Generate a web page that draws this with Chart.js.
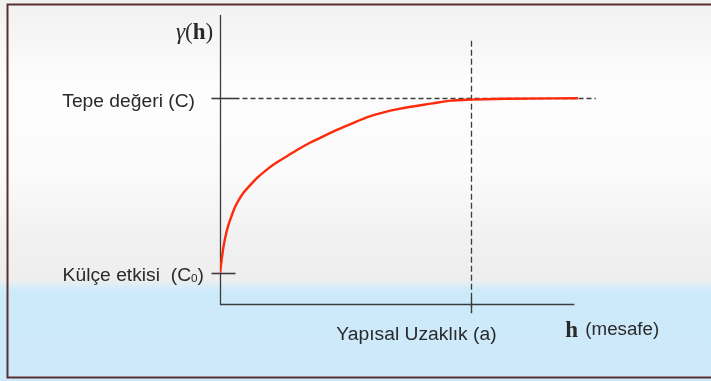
<!DOCTYPE html>
<html>
<head>
<meta charset="utf-8">
<script src="https://cdn.jsdelivr.net/npm/chart.js@4/dist/chart.umd.min.js"></script>
<style>
html,body{margin:0;padding:0;background:#fff;overflow:hidden;}
canvas{display:block;}
</style>
</head>
<body>
<canvas id="c" width="711" height="381"></canvas>
<script>
// ---- data ----
const distances   = [0, 0.05, 0.1, 0.17, 0.23, 0.33, 0.42, 0.51, 0.65, 0.84, 1.03, 1.3, 1.58, 1.86, 2.14, 2.5, 2.8, 3.25, 3.6, 4.2, 5.0, 5.95, 6.45, 7.0, 8.0, 10.0];
const semivariance = [1.5, 2.2, 2.8, 3.4, 3.8, 4.3, 4.7, 5.0, 5.38, 5.75, 6.1, 6.5, 6.85, 7.15, 7.45, 7.8, 8.05, 8.42, 8.68, 9.1, 9.45, 9.72, 9.85, 9.9, 9.94, 9.97];
const nugget = 1.5;        // C0
const sill = 10;           // C
const rangeA = 7;          // a
const xAxisEnd = 9.9;
const sillLineEnd = 10.5;
const yAxisTop = 14;
const rangeLineTop = 12.75;
const rangeLineBottom = -0.45;
const rangeTickBottom = -0.4;
const labelSill = 'Tepe değeri (C)';
const labelNugget = 'Külçe etkisi  (C';
const labelNuggetSub = '0';
const labelRange = 'Yapısal Uzaklık (a)';
const labelYTitle = ['γ', '(', 'h', ')'];
const labelXTitle = 'h';
const labelXUnit = '(mesafe)';

const points = distances.map((d, i) => ({x: d, y: semivariance[i]}));

const SANS = '"Liberation Sans", Arial, sans-serif';
const SERIF = '"Liberation Serif", "Times New Roman", serif';

function stretchText(ctx, text, x, y, align, sx) {
  ctx.save();
  ctx.translate(x, y);
  ctx.scale(sx, 1);
  ctx.textAlign = align;
  ctx.fillText(text, 0, 0);
  ctx.restore();
  return ctx.measureText(text).width * sx;
}

const backgroundPlugin = {
  id: 'bg',
  beforeDraw(chart) {
    const ctx = chart.ctx, W = chart.width, H = chart.height;
    ctx.save();
    const g = ctx.createLinearGradient(0, 0, 0, H);
    g.addColorStop(0.0, '#f1f1f1');
    g.addColorStop(0.10, '#f6f6f6');
    g.addColorStop(0.22, '#fdfdfd');
    g.addColorStop(0.45, '#fbfbfb');
    g.addColorStop(0.62, '#f1f1f1');
    g.addColorStop(0.735, '#eeeeee');
    g.addColorStop(0.75, '#dcedf6');
    g.addColorStop(0.765, '#cdeafb');
    g.addColorStop(1.0, '#cde9fa');
    ctx.fillStyle = g;
    ctx.fillRect(0, 0, W, H);
    // frame (left, top, bottom)
    ctx.strokeStyle = '#5a2f30';
    ctx.lineWidth = 2;
    ctx.beginPath();
    ctx.moveTo(W + 2, 4.5);
    ctx.lineTo(7.5, 4.5);
    ctx.lineTo(7.5, 377.5);
    ctx.lineTo(W + 2, 377.5);
    ctx.stroke();
    ctx.restore();
  }
};

const axesPlugin = {
  id: 'axes',
  beforeDatasetsDraw(chart) {
    const ctx = chart.ctx;
    const xs = chart.scales.x, ys = chart.scales.y;
    const X = v => xs.getPixelForValue(v), Y = v => ys.getPixelForValue(v);
    const x0 = Math.round(X(0)) + 0.5, y0 = Math.round(Y(0)) + 0.5;
    ctx.save();
    ctx.strokeStyle = '#3c3c3c';
    ctx.lineWidth = 1.3;
    // axes
    ctx.beginPath();
    ctx.moveTo(x0, Y(yAxisTop));
    ctx.lineTo(x0, y0);
    ctx.lineTo(X(xAxisEnd), y0);
    ctx.stroke();
    // sill tick + dashed line
    const yc = Math.round(Y(sill)) + 0.5;
    ctx.lineWidth = 1.6;
    ctx.beginPath();
    ctx.moveTo(x0 - 9, yc); ctx.lineTo(x0 + 19, yc);
    ctx.stroke();
    ctx.lineWidth = 1.3;
    ctx.setLineDash([5, 3]);
    ctx.beginPath();
    ctx.moveTo(x0 + 22, yc); ctx.lineTo(X(sillLineEnd), yc);
    ctx.stroke();
    ctx.setLineDash([]);
    // nugget tick
    const yn = Math.round(Y(nugget)) + 0.5;
    ctx.lineWidth = 1.6;
    ctx.beginPath();
    ctx.moveTo(x0 - 9, yn); ctx.lineTo(x0 + 15, yn);
    ctx.stroke();
    // range line (dashed) + solid tick at x axis
    const xa = Math.round(X(rangeA)) + 0.5;
    ctx.lineWidth = 1.3;
    ctx.setLineDash([6, 3]);
    ctx.beginPath();
    ctx.moveTo(xa, Y(rangeLineTop)); ctx.lineTo(xa, Y(rangeLineBottom));
    ctx.stroke();
    ctx.setLineDash([]);
    ctx.beginPath();
    ctx.moveTo(xa, y0 - 7); ctx.lineTo(xa, Y(rangeTickBottom));
    ctx.stroke();
    ctx.restore();
  },
  afterDraw(chart) {
    const ctx = chart.ctx;
    const xs = chart.scales.x, ys = chart.scales.y;
    const X = v => xs.getPixelForValue(v), Y = v => ys.getPixelForValue(v);
    const x0 = X(0);
    ctx.save();
    ctx.fillStyle = '#2a2a2a';
    ctx.textBaseline = 'alphabetic';
    // sill label
    ctx.font = '18px ' + SANS;
    stretchText(ctx, labelSill, x0 - 25, Y(sill) + 9, 'right', 1.07);
    // nugget label with subscript
    const sx = 1.07;
    const ny = Y(nugget) + 8;
    const rightEdge = x0 - 16;
    ctx.font = '18px ' + SANS;
    const wClose = ctx.measureText(')').width * sx;
    ctx.font = '11px ' + SANS;
    const wSub = ctx.measureText(labelNuggetSub).width * sx;
    ctx.font = '18px ' + SANS;
    const wMain = ctx.measureText(labelNugget).width * sx;
    let start = rightEdge - wClose - wSub - wMain;
    stretchText(ctx, labelNugget, start, ny, 'left', sx);
    ctx.font = '11px ' + SANS;
    stretchText(ctx, labelNuggetSub, start + wMain, ny + 1, 'left', sx);
    ctx.font = '18px ' + SANS;
    stretchText(ctx, ')', start + wMain + wSub, ny, 'left', sx);
    // range label
    stretchText(ctx, labelRange, X(rangeA) + 26, Y(0) + 36, 'right', 1.07);
    // x title
    ctx.font = 'bold 23px ' + SERIF;
    ctx.textAlign = 'left';
    const hx = X(xAxisEnd) - 9;
    ctx.fillText(labelXTitle, hx, Y(0) + 33);
    ctx.font = '18px ' + SANS;
    stretchText(ctx, labelXUnit, hx + 20, Y(0) + 31, 'left', 1.04);
    // y title  γ(h)
    let tx = x0 - 44, ty = Y(yAxisTop) + 24;
    ctx.font = 'italic 23px ' + SERIF;
    ctx.fillText(labelYTitle[0], tx, ty); tx += ctx.measureText(labelYTitle[0]).width;
    ctx.font = '23px ' + SERIF;
    ctx.fillText(labelYTitle[1], tx, ty); tx += ctx.measureText(labelYTitle[1]).width;
    ctx.font = 'bold 23px ' + SERIF;
    ctx.fillText(labelYTitle[2], tx, ty); tx += ctx.measureText(labelYTitle[2]).width;
    ctx.font = '23px ' + SERIF;
    ctx.fillText(labelYTitle[3], tx, ty);
    ctx.restore();
  }
};

new Chart(document.getElementById('c'), {
  type: 'scatter',
  data: {
    datasets: [{
      data: points,
      showLine: true,
      borderColor: '#ff2a0a',
      borderWidth: 2.4,
      pointRadius: 0,
      cubicInterpolationMode: 'monotone',
      fill: false
    }]
  },
  options: {
    responsive: false,
    devicePixelRatio: 1,
    animation: false,
    events: [],
    layout: { padding: { left: 220, right: 111.6, top: 15, bottom: 66.65 } },
    plugins: { legend: { display: false }, tooltip: { enabled: false } },
    scales: {
      x: { type: 'linear', min: 0, max: 10.6, display: false },
      y: { type: 'linear', min: -0.5, max: 14, display: false }
    }
  },
  plugins: [backgroundPlugin, axesPlugin]
});
</script>
</body>
</html>
